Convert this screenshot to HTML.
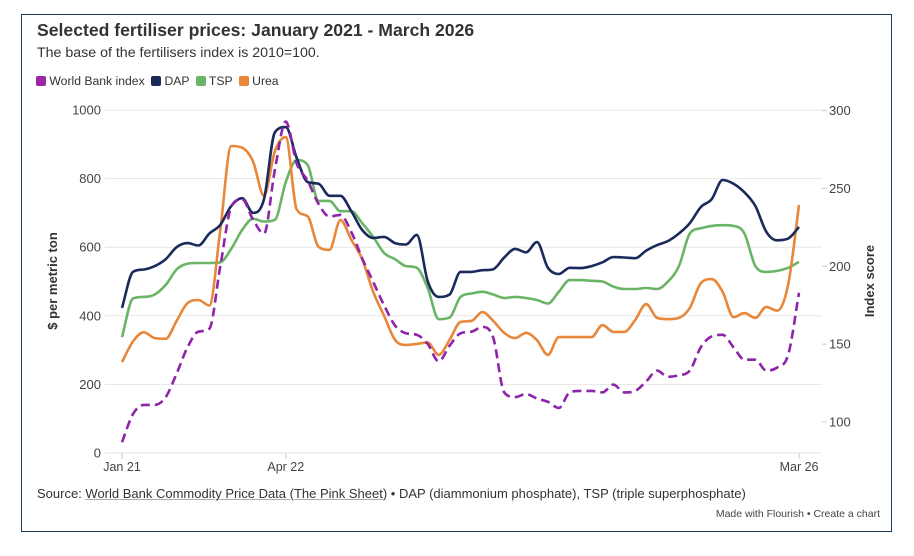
<!DOCTYPE html>
<html><head><meta charset="utf-8">
<style>
html,body{margin:0;padding:0;background:#fff;}
body{width:914px;height:556px;position:relative;overflow:hidden;font-family:"Liberation Sans",sans-serif;color:#333;}
#frame{position:absolute;left:21px;top:14px;width:871px;height:518px;border:1.5px solid #1d3a5f;box-sizing:border-box;}
.t{position:absolute;white-space:nowrap;}
</style></head>
<body>
<div id="frame"></div>
<div class="t" style="left:37px;top:20px;font-size:17.6px;font-weight:bold;color:#333;">Selected fertiliser prices: January 2021 - March 2026</div>
<div class="t" style="left:37px;top:45px;font-size:14.2px;color:#333;">The base of the fertilisers index is 2010=100.</div>
<div class="t" style="left:36px;top:74px;font-size:12.2px;color:#333;">
<span><span style="display:inline-block;width:10px;height:10px;border-radius:2px;background:#9c27a8;vertical-align:-1px;"></span> World Bank index</span>
<span style="margin-left:3px;"><span style="display:inline-block;width:10px;height:10px;border-radius:2px;background:#1b2a5a;vertical-align:-1px;"></span> DAP</span>
<span style="margin-left:3px;"><span style="display:inline-block;width:10px;height:10px;border-radius:2px;background:#6ab565;vertical-align:-1px;"></span> TSP</span>
<span style="margin-left:3px;"><span style="display:inline-block;width:10px;height:10px;border-radius:2px;background:#e8873a;vertical-align:-1px;"></span> Urea</span>
</div>
<svg id="chart" width="914" height="556" style="position:absolute;left:0;top:0;" xmlns="http://www.w3.org/2000/svg"></svg>
<div class="t" style="left:37px;top:486px;font-size:13px;color:#333;">Source: <span style="text-decoration:underline;text-decoration-color:#aaa;">World Bank Commodity Price Data (The Pink Sheet)</span> • DAP (diammonium phosphate), TSP (triple superphosphate)</div>
<div class="t" style="right:34px;top:508px;font-size:10.5px;color:#444;">Made with Flourish • Create a chart</div>
<script>
const leftTicks=[0,200,400,600,800,1000];
const rightTicks=[100,150,200,250,300];
const xTickLabels=["Jan 21","Apr 22","Mar 26"];
const xTickMonths=[0,15,62];
const dap=[423,528,535,545,565,600,612,605,640,665,720,743,700,740,935,950,860,790,785,750,750,705,650,627,630,612,608,636,500,455,462,528,528,533,536,570,595,585,615,540,522,540,539,545,556,571,570,568,590,606,618,640,670,717,740,796,785,760,720,645,620,625,659];
const tsp=[338,450,455,462,490,535,552,554,554,556,595,650,683,675,680,790,854,840,735,735,705,705,670,630,583,565,545,540,480,390,395,455,465,470,462,452,455,452,446,436,470,504,504,502,500,485,478,478,481,478,500,545,640,655,662,664,662,640,545,528,531,540,557];
const urea=[265,325,352,335,333,385,437,446,430,650,895,890,850,750,880,921,710,690,601,592,679,622,565,470,400,330,315,318,322,286,330,382,385,411,385,350,335,350,329,286,338,338,338,338,373,353,353,388,434,394,390,394,423,495,507,470,396,408,394,426,415,490,723];
const wbIndex=[87,105,111,111,116,131,148,158,160,200,238,243,230,221,262,293,266,255,240,232,233,222,205,190,175,162,157,156,150,139,149,157,158,161,154,119,116,118,115,113,109,119,120,120,119,124,119,120,126,133,129,130,133,148,155,156,148,140,140,133,135,143,183];

const svg=document.getElementById('chart');
const NS='http://www.w3.org/2000/svg';
const X0=122,XS=10.92,GL=105,GR=822;
const x=m=>X0+m*XS;
const yL=v=>453-v*0.343;
const yR=v=>110.6+(300-v)*1.557;
function mk(tag,attrs){const e=document.createElementNS(NS,tag);for(const k in attrs)e.setAttribute(k,attrs[k]);svg.appendChild(e);return e;}

leftTicks.forEach(v=>{
  const g=mk('line',{x1:GL,x2:GR,y1:yL(v),y2:yL(v),stroke:'#e6e6e6','stroke-width':1});
  
  
  const t=mk('text',{x:101,y:yL(v)+4.5,'text-anchor':'end','font-size':13,fill:'#444','font-family':'Liberation Sans, sans-serif'});
  t.textContent=v;
  
  
});
rightTicks.forEach(v=>{
  const l=mk('line',{x1:822,x2:827,y1:yR(v),y2:yR(v),stroke:'#ccc','stroke-width':1});
  
  
  const t=mk('text',{x:829,y:yR(v)+4.5,'font-size':13,fill:'#444','font-family':'Liberation Sans, sans-serif'});
  t.textContent=v;
  
  
});
xTickLabels.forEach((s,i)=>{
  const xx=x(xTickMonths[i]);
  const l=mk('line',{x1:xx,x2:xx,y1:453,y2:459,stroke:'#ccc','stroke-width':1});
  
  
  const t=mk('text',{x:xx,y:471,'text-anchor':'middle','font-size':12.5,fill:'#444','font-family':'Liberation Sans, sans-serif'});
  t.textContent=s;
  
  
});
const lt=mk('text',{x:0,y:0,transform:'translate(57,281) rotate(-90)','text-anchor':'middle','font-size':13,'font-weight':'bold',fill:'#333','font-family':'Liberation Sans, sans-serif'});
lt.textContent='$ per metric ton';


const rt=mk('text',{x:0,y:0,transform:'translate(874,281) rotate(-90)','text-anchor':'middle','font-size':13,'font-weight':'bold',fill:'#333','font-family':'Liberation Sans, sans-serif'});
rt.textContent='Index score';



function monoPath(pts){
  const n=pts.length;const d=[],m=[];
  for(let i=0;i<n-1;i++)d.push((pts[i+1][1]-pts[i][1])/(pts[i+1][0]-pts[i][0]));
  m[0]=d[0];m[n-1]=d[n-2];
  for(let i=1;i<n-1;i++){m[i]=(d[i-1]*d[i]<=0)?0:(d[i-1]+d[i])/2;}
  for(let i=0;i<n-1;i++){if(d[i]===0){m[i]=0;m[i+1]=0;continue;}const a=m[i]/d[i],b=m[i+1]/d[i],s=a*a+b*b;if(s>9){const t=3/Math.sqrt(s);m[i]=t*a*d[i];m[i+1]=t*b*d[i];}}
  let p='M'+pts[0][0].toFixed(1)+','+pts[0][1].toFixed(1);
  for(let i=0;i<n-1;i++){const h=(pts[i+1][0]-pts[i][0])/3;
    p+='C'+(pts[i][0]+h).toFixed(1)+','+(pts[i][1]+m[i]*h).toFixed(1)+' '+(pts[i+1][0]-h).toFixed(1)+','+(pts[i+1][1]-m[i+1]*h).toFixed(1)+' '+pts[i+1][0].toFixed(1)+','+pts[i+1][1].toFixed(1);}
  return p;
}
function series(data,yf,color,name,dash){
  const pts=data.map((v,i)=>[x(i),yf(v)]);
  const a={d:monoPath(pts),fill:'none',stroke:color,'stroke-width':2.6,'stroke-linejoin':'round','stroke-linecap':'butt'};
  if(dash)a['stroke-dasharray']=dash;
  const p=mk('path',a);
  
  
}
series(tsp,yL,'#6ab565','tsp-line');
series(urea,yL,'#e8873a','urea-line');
series(dap,yL,'#1b2a5a','dap-line');
series(wbIndex,yR,'#8e24aa','world-bank-index-line','9,5');
</script>
</body></html>
